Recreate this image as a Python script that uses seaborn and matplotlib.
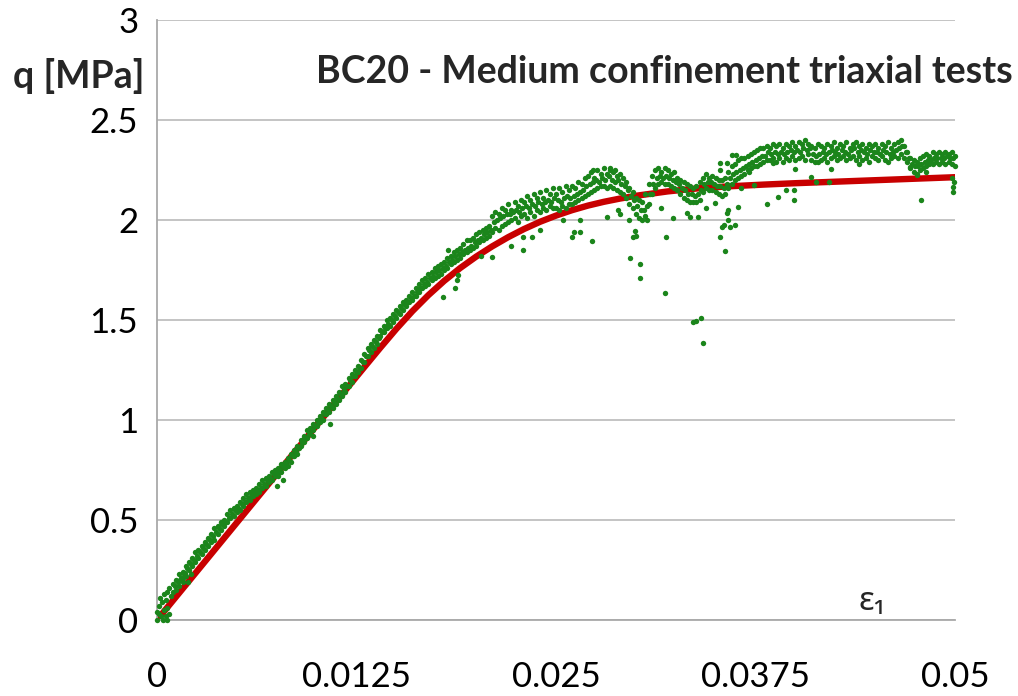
import matplotlib
matplotlib.use("Agg")
import matplotlib.pyplot as plt
import numpy as np
import pandas as pd
import seaborn as sns

# ---------------------------------------------------------------------------
# Data: axial strain in per mille, deviatoric stress q in MPa
# ---------------------------------------------------------------------------

# Fitted model response (red curve)
eps_fit = [0.0, 7.5, 13.1, 14.0, 15.0, 16.0, 17.0, 18.0, 19.0, 20.0, 21.0, 22.0,
           23.0, 24.0, 25.0, 26.0, 27.0, 28.0, 29.0, 30.0, 32.0, 34.0, 36.0, 38.0,
           40.0, 44.0, 50.0]
q_fit = [0.0, 0.73, 1.275, 1.362, 1.456, 1.544, 1.624, 1.696, 1.760, 1.817, 1.868, 1.914,
         1.955, 1.991, 2.022, 2.049, 2.072, 2.091, 2.107, 2.121, 2.143, 2.159, 2.169, 2.177,
         2.184, 2.196, 2.214]

# Measured points, loading branch (upper edge, lower edge and middle of the band)
eps_load = [1.0, 1.2, 1.4, 1.6, 1.8, 2.0, 2.2, 2.4, 2.6, 2.8,
            3.0, 3.2, 3.4, 3.6, 3.8, 4.0, 4.2, 4.4, 4.6, 4.8,
            5.0, 5.2, 5.4, 5.6, 5.8, 6.0, 6.2, 6.4, 6.6, 6.8,
            7.0, 7.2, 7.4, 7.6, 7.8, 8.0, 8.2, 8.4, 8.6, 8.8,
            9.0, 9.2, 9.4, 9.6, 9.8, 10.0, 10.2, 10.4, 10.6, 10.8,
            11.0, 11.2, 11.4, 11.6, 11.8, 12.0, 12.2, 12.4, 12.6, 12.8,
            13.0, 13.2, 13.4, 13.6, 13.8, 14.0, 14.2, 14.4, 14.6, 14.8,
            15.0, 15.2, 15.4, 15.6, 15.8, 16.0, 16.2, 16.4, 16.6, 16.8,
            17.0, 17.2, 17.4, 17.6, 17.8, 18.0, 18.2, 18.4, 18.6, 18.8,
            19.0, 19.2, 19.4, 19.6, 19.8, 20.0, 20.2, 20.4, 20.6, 20.8]
q_load_upper = [0.18, 0.20, 0.23, 0.24, 0.27, 0.29, 0.31, 0.34, 0.35, 0.37,
                0.39, 0.41, 0.43, 0.46, 0.47, 0.49, 0.50, 0.53, 0.55, 0.56,
                0.57, 0.59, 0.61, 0.63, 0.64, 0.65, 0.66, 0.68, 0.70, 0.71,
                0.72, 0.74, 0.75, 0.76, 0.78, 0.79, 0.81, 0.83, 0.85, 0.87,
                0.90, 0.92, 0.95, 0.96, 0.98, 1.00, 1.02, 1.04, 1.06, 1.08,
                1.10, 1.12, 1.14, 1.17, 1.18, 1.21, 1.23, 1.25, 1.27, 1.30,
                1.33, 1.36, 1.38, 1.40, 1.42, 1.45, 1.47, 1.50, 1.51, 1.53,
                1.55, 1.57, 1.59, 1.60, 1.62, 1.64, 1.66, 1.68, 1.70, 1.71,
                1.73, 1.74, 1.76, 1.77, 1.78, 1.79, 1.81, 1.82, 1.84, 1.85,
                1.86, 1.88, 1.90, 1.90, 1.91, 1.93, 1.94, 1.95, 1.96, 1.97]
q_load_lower = [0.14, 0.15, 0.17, 0.19, 0.22, 0.25, 0.27, 0.29, 0.31, 0.33,
                0.35, 0.37, 0.39, 0.40, 0.43, 0.45, 0.47, 0.49, 0.51, 0.52,
                0.54, 0.55, 0.57, 0.59, 0.60, 0.62, 0.63, 0.64, 0.66, 0.67,
                0.69, 0.70, 0.72, 0.72, 0.74, 0.76, 0.77, 0.79, 0.82, 0.83,
                0.87, 0.89, 0.91, 0.93, 0.95, 0.97, 0.99, 1.00, 1.03, 1.04,
                1.06, 1.08, 1.10, 1.12, 1.14, 1.17, 1.19, 1.22, 1.24, 1.26,
                1.29, 1.32, 1.34, 1.36, 1.38, 1.42, 1.44, 1.46, 1.47, 1.49,
                1.51, 1.53, 1.55, 1.57, 1.59, 1.60, 1.62, 1.64, 1.66, 1.67,
                1.68, 1.70, 1.71, 1.72, 1.73, 1.75, 1.76, 1.78, 1.79, 1.80,
                1.81, 1.83, 1.84, 1.85, 1.86, 1.87, 1.89, 1.90, 1.91, 1.92]
eps_load_mid = [1.1, 1.3, 1.5, 1.7, 1.9, 2.1, 2.3, 2.5, 2.7, 2.9,
                3.1, 3.3, 3.5, 3.7, 3.9, 4.1, 4.3, 4.5, 4.7, 4.9,
                5.1, 5.3, 5.5, 5.7, 5.9, 6.1, 6.3, 6.5, 6.7, 6.9,
                7.1, 7.3, 7.5, 7.7, 7.9, 8.1, 8.3, 8.5, 8.7, 8.9,
                9.1, 9.3, 9.5, 9.7, 9.9, 10.1, 10.3, 10.5, 10.7, 10.9,
                11.1, 11.3, 11.5, 11.7, 11.9, 12.1, 12.3, 12.5, 12.7, 12.9,
                13.1, 13.3, 13.5, 13.7, 13.9, 14.1, 14.3, 14.5, 14.7, 14.9,
                15.1, 15.3, 15.5, 15.7, 15.9, 16.1, 16.3, 16.5, 16.7, 16.9,
                17.1, 17.3, 17.5, 17.7, 17.9, 18.1, 18.3, 18.5, 18.7, 18.9,
                19.1, 19.3, 19.5, 19.7, 19.9, 20.1, 20.3, 20.5, 20.7, 20.9]
q_load_mid = [0.17, 0.19, 0.21, 0.23, 0.26, 0.28, 0.30, 0.32, 0.34, 0.36,
              0.38, 0.40, 0.42, 0.44, 0.46, 0.48, 0.49, 0.51, 0.53, 0.55,
              0.56, 0.58, 0.59, 0.61, 0.62, 0.64, 0.65, 0.66, 0.68, 0.70,
              0.71, 0.73, 0.74, 0.75, 0.77, 0.78, 0.80, 0.82, 0.84, 0.86,
              0.89, 0.91, 0.93, 0.95, 0.97, 0.99, 1.01, 1.03, 1.05, 1.07,
              1.09, 1.11, 1.13, 1.15, 1.17, 1.20, 1.22, 1.24, 1.26, 1.29,
              1.32, 1.35, 1.37, 1.39, 1.41, 1.44, 1.46, 1.48, 1.50, 1.52,
              1.54, 1.56, 1.58, 1.59, 1.61, 1.62, 1.64, 1.66, 1.68, 1.69,
              1.71, 1.72, 1.74, 1.75, 1.76, 1.77, 1.79, 1.80, 1.82, 1.83,
              1.84, 1.85, 1.86, 1.87, 1.89, 1.90, 1.91, 1.93, 1.94, 1.95]

# Measured points, hardening plateau (upper edge, lower edge and middle of the band)
eps_plat = [21.0, 21.2, 21.4, 21.6, 21.8, 22.0, 22.2, 22.4, 22.6, 22.8,
            23.0, 23.2, 23.4, 23.6, 23.8, 24.0, 24.2, 24.4, 24.6, 24.8,
            25.0, 25.2, 25.4, 25.6, 25.8, 26.0, 26.2, 26.4, 26.6, 26.8,
            27.0, 27.2, 27.4, 27.6, 27.8, 28.0, 28.2, 28.4, 28.6, 28.8,
            29.0, 29.2, 29.4, 29.6, 29.8, 30.0, 30.2, 30.4, 30.6, 30.8,
            31.0, 31.2, 31.4, 31.6, 31.8, 32.0, 32.2, 32.4, 32.6, 32.8,
            33.0, 33.2, 33.4, 33.6, 33.8, 34.0, 34.2, 34.4, 34.6, 34.8,
            35.0, 35.2, 35.4, 35.6, 35.8, 36.0, 36.2, 36.4, 36.6, 36.8,
            37.0, 37.2, 37.4, 37.6, 37.8, 38.0, 38.2, 38.4, 38.6, 38.8,
            39.0, 39.2, 39.4, 39.6, 39.8, 40.0, 40.2, 40.4, 40.6, 40.8,
            41.0, 41.2, 41.4, 41.6, 41.8, 42.0, 42.2, 42.4, 42.6, 42.8,
            43.0, 43.2, 43.4, 43.6, 43.8, 44.0, 44.2, 44.4, 44.6, 44.8,
            45.0, 45.2, 45.4, 45.6, 45.8, 46.0, 46.2, 46.4, 46.6, 46.8,
            47.0, 47.2, 47.4, 47.6, 47.8, 48.0, 48.2, 48.4, 48.6, 48.8,
            49.0, 49.2, 49.4, 49.6, 49.8, 50.0]
q_plat_upper = [2.02, 2.04, 2.03, 2.06, 2.05, 2.08, 2.05, 2.09, 2.07, 2.10,
                2.09, 2.12, 2.10, 2.13, 2.11, 2.14, 2.11, 2.15, 2.13, 2.16,
                2.13, 2.16, 2.14, 2.17, 2.15, 2.17, 2.16, 2.19, 2.18, 2.21,
                2.22, 2.24, 2.21, 2.25, 2.23, 2.26, 2.23, 2.25, 2.24, 2.22,
                2.23, 2.21, 2.19, 2.16, 2.14, 2.11, 2.10, 2.09, 2.13, 2.18,
                2.22, 2.25, 2.26, 2.24, 2.26, 2.25, 2.23, 2.24, 2.21, 2.20,
                2.19, 2.18, 2.17, 2.16, 2.17, 2.19, 2.21, 2.23, 2.21, 2.22,
                2.21, 2.20, 2.20, 2.21, 2.24, 2.27, 2.28, 2.30, 2.31, 2.31,
                2.32, 2.33, 2.34, 2.35, 2.36, 2.36, 2.37, 2.36, 2.38, 2.37,
                2.38, 2.36, 2.38, 2.37, 2.39, 2.37, 2.39, 2.38, 2.40, 2.38,
                2.37, 2.36, 2.38, 2.37, 2.36, 2.38, 2.37, 2.39, 2.36, 2.38,
                2.37, 2.39, 2.36, 2.38, 2.39, 2.37, 2.38, 2.36, 2.38, 2.37,
                2.38, 2.36, 2.38, 2.37, 2.39, 2.36, 2.38, 2.39, 2.40, 2.37,
                2.34, 2.31, 2.30, 2.29, 2.31, 2.32, 2.33, 2.32, 2.34, 2.33,
                2.34, 2.33, 2.34, 2.33, 2.34, 2.32]
q_plat_lower = [1.94, 1.96, 1.95, 1.97, 1.98, 1.99, 2.00, 2.01, 1.99, 2.02,
                2.03, 2.01, 2.04, 2.02, 2.05, 2.04, 2.06, 2.05, 2.07, 2.06,
                2.06, 2.05, 2.07, 2.06, 2.08, 2.08, 2.09, 2.10, 2.11, 2.12,
                2.13, 2.14, 2.15, 2.16, 2.17, 2.17, 2.16, 2.17, 2.16, 2.15,
                2.14, 2.13, 2.11, 2.08, 2.06, 2.03, 2.01, 2.00, 2.02, 2.08,
                2.13, 2.16, 2.18, 2.19, 2.18, 2.18, 2.17, 2.16, 2.15, 2.13,
                2.11, 2.10, 2.09, 2.09, 2.09, 2.10, 2.14, 2.16, 2.15, 2.15,
                2.14, 2.13, 2.12, 2.13, 2.16, 2.18, 2.20, 2.21, 2.22, 2.23,
                2.25, 2.26, 2.27, 2.27, 2.28, 2.29, 2.30, 2.30, 2.31, 2.29,
                2.31, 2.29, 2.31, 2.30, 2.32, 2.30, 2.31, 2.32, 2.30, 2.33,
                2.30, 2.29, 2.29, 2.30, 2.31, 2.29, 2.31, 2.32, 2.30, 2.31,
                2.32, 2.30, 2.31, 2.32, 2.30, 2.32, 2.30, 2.31, 2.29, 2.32,
                2.31, 2.30, 2.32, 2.30, 2.29, 2.31, 2.32, 2.31, 2.33, 2.31,
                2.29, 2.26, 2.24, 2.23, 2.25, 2.26, 2.27, 2.28, 2.28, 2.29,
                2.28, 2.29, 2.28, 2.29, 2.28, 2.27]
eps_plat_mid = [21.1, 21.3, 21.5, 21.7, 21.9, 22.1, 22.3, 22.5, 22.7, 22.9,
                23.1, 23.3, 23.5, 23.7, 23.9, 24.1, 24.3, 24.5, 24.7, 24.9,
                25.1, 25.3, 25.5, 25.7, 25.9, 26.1, 26.3, 26.5, 26.7, 26.9,
                27.1, 27.3, 27.5, 27.7, 27.9, 28.1, 28.3, 28.5, 28.7, 28.9,
                29.1, 29.3, 29.5, 29.7, 29.9, 30.1, 30.3, 30.5, 30.7, 30.9,
                31.1, 31.3, 31.5, 31.7, 31.9, 32.1, 32.3, 32.5, 32.7, 32.9,
                33.1, 33.3, 33.5, 33.7, 33.9, 34.1, 34.3, 34.5, 34.7, 34.9,
                35.1, 35.3, 35.5, 35.7, 35.9, 36.1, 36.3, 36.5, 36.7, 36.9,
                37.1, 37.3, 37.5, 37.7, 37.9, 38.1, 38.3, 38.5, 38.7, 38.9,
                39.1, 39.3, 39.5, 39.7, 39.9, 40.1, 40.3, 40.5, 40.7, 40.9,
                41.1, 41.3, 41.5, 41.7, 41.9, 42.1, 42.3, 42.5, 42.7, 42.9,
                43.1, 43.3, 43.5, 43.7, 43.9, 44.1, 44.3, 44.5, 44.7, 44.9,
                45.1, 45.3, 45.5, 45.7, 45.9, 46.1, 46.3, 46.5, 46.7, 46.9,
                47.1, 47.3, 47.5, 47.7, 47.9, 48.1, 48.3, 48.5, 48.7, 48.9,
                49.1, 49.3, 49.5, 49.7, 49.9]
q_plat_mid = [1.99, 2.00, 2.01, 2.02, 2.03, 2.03, 2.04, 2.05, 2.04, 2.06,
              2.07, 2.06, 2.08, 2.07, 2.09, 2.08, 2.09, 2.10, 2.09, 2.11,
              2.10, 2.09, 2.11, 2.12, 2.11, 2.12, 2.13, 2.14, 2.15, 2.17,
              2.18, 2.19, 2.20, 2.19, 2.21, 2.20, 2.22, 2.20, 2.19, 2.20,
              2.18, 2.17, 2.15, 2.12, 2.10, 2.07, 2.05, 2.05, 2.07, 2.13,
              2.18, 2.21, 2.22, 2.21, 2.22, 2.21, 2.20, 2.19, 2.18, 2.16,
              2.15, 2.13, 2.13, 2.12, 2.13, 2.15, 2.18, 2.19, 2.19, 2.18,
              2.17, 2.17, 2.16, 2.18, 2.21, 2.23, 2.24, 2.25, 2.26, 2.27,
              2.28, 2.29, 2.30, 2.31, 2.32, 2.32, 2.34, 2.33, 2.34, 2.33,
              2.34, 2.33, 2.34, 2.35, 2.34, 2.35, 2.34, 2.36, 2.35, 2.36,
              2.33, 2.32, 2.33, 2.34, 2.33, 2.34, 2.35, 2.34, 2.33, 2.35,
              2.34, 2.33, 2.35, 2.36, 2.34, 2.35, 2.34, 2.33, 2.35, 2.34,
              2.34, 2.33, 2.35, 2.34, 2.33, 2.34, 2.35, 2.36, 2.37, 2.34,
              2.31, 2.28, 2.27, 2.27, 2.28, 2.29, 2.30, 2.30, 2.31, 2.31,
              2.31, 2.31, 2.32, 2.31, 2.31]

# Measured points off the main band (start of test and load drops)
eps_scatter = [0.0, 0.0, 0.1, 0.15, 0.2, 0.25, 0.3, 0.35, 0.45, 0.45,
               0.55, 0.55, 0.6, 0.65, 0.65, 0.75, 0.75, 0.85,
               1.45, 1.65, 1.75, 1.95, 2.1,
               7.5, 7.9, 9.8, 10.85,
               17.94, 18.67, 18.78, 18.88, 18.25, 20.3, 21.0, 22.2, 22.95, 22.95,
               23.5, 24.0, 25.46, 25.98, 26.1, 26.5, 26.5, 27.24, 28.2, 28.9,
               29.0, 29.6, 29.85, 29.95, 29.64, 30.26, 30.26, 30.0, 30.7, 27.3,
               28.4, 28.7, 31.6, 31.9, 31.8, 32.3, 33.2, 33.4, 33.9, 33.6,
               33.8, 34.1, 34.2, 34.4, 34.97, 35.3, 35.4, 35.5, 35.6, 35.7,
               35.8, 35.9, 36.2, 35.8, 36.4, 35.3, 35.3, 35.7, 36.0, 36.3,
               36.6, 37.1, 37.4, 38.2, 38.9, 38.6, 39.4, 39.9, 39.9, 40.0,
               41.0, 41.3, 42.1, 42.2, 44.0, 47.2, 47.6, 47.9, 48.2, 49.8,
               49.85, 49.9, 49.95]
q_scatter = [0.0, 0.04, 0.07, 0.03, 0.11, 0.02, 0.09, 0.0, 0.05, 0.13,
             0.02, 0.10, 0.0, 0.06, 0.14, 0.03, 0.16, 0.12,
             0.20, 0.21, 0.235, 0.19, 0.23,
             0.67, 0.70, 0.92, 0.98,
             1.615, 1.66, 1.70, 1.725, 1.85, 1.82, 1.815, 1.87, 1.85, 1.913,
             1.913, 1.95, 2.0, 1.913, 1.94, 1.94, 2.0, 1.897, 2.017, 2.05,
             2.03, 2.0, 1.913, 1.947, 1.808, 1.78, 1.71, 1.92, 2.0, 2.25,
             2.26, 2.25, 2.058, 1.913, 1.633, 2.008, 2.033, 2.017, 2.013, 1.492,
             1.497, 1.508, 1.383, 2.058, 2.087, 1.917, 1.967, 1.975, 1.847, 2.033,
             2.0, 1.967, 1.975, 2.05, 2.067, 2.283, 2.25, 2.283, 2.325, 2.325,
             2.158, 2.24, 2.175, 2.08, 2.117, 2.283, 2.15, 2.15, 2.10, 2.253,
             2.217, 2.19, 2.19, 2.253, 2.28, 2.267, 2.225, 2.10, 2.24, 2.208,
             2.167, 2.14, 2.19]

x_ticks = [0, 0.0125, 0.025, 0.0375, 0.05]
x_tick_labels = ["0", "0.0125", "0.025", "0.0375", "0.05"]
y_ticks = [0, 0.5, 1, 1.5, 2, 2.5, 3]
y_tick_labels = ["0", "0.5", "1", "1.5", "2", "2.5", "3"]

title_text = "BC20 - Medium confinement triaxial tests"
y_label_text = "q [MPa]"
x_label_text = "\u03b5\u2081"

# ---------------------------------------------------------------------------
# Tables for seaborn (strain converted from per mille to absolute)
# ---------------------------------------------------------------------------
fit_df = pd.DataFrame({"eps": np.array(eps_fit) / 1000.0, "q": q_fit})
measured_df = pd.concat([
    pd.DataFrame({"eps": eps_load, "q": q_load_upper}),
    pd.DataFrame({"eps": eps_load, "q": q_load_lower}),
    pd.DataFrame({"eps": eps_load_mid, "q": q_load_mid}),
    pd.DataFrame({"eps": eps_plat, "q": q_plat_upper}),
    pd.DataFrame({"eps": eps_plat, "q": q_plat_lower}),
    pd.DataFrame({"eps": eps_plat_mid, "q": q_plat_mid}),
    pd.DataFrame({"eps": eps_scatter, "q": q_scatter}),
], ignore_index=True)
measured_df["eps"] = measured_df["eps"] / 1000.0

# ---------------------------------------------------------------------------
# Figure
# ---------------------------------------------------------------------------
sns.set_style("white")
plt.rcParams["font.family"] = ["Lato", "DejaVu Sans"]

W, H = 1018, 696
fig = plt.figure(figsize=(W / 100, H / 100), dpi=100)
ax = fig.add_axes([157 / W, 76 / H, 798 / W, 600 / H])

axis_grey = "#a9a9a9"
grid_grey = "#bfbfbf"

sns.lineplot(data=fit_df, x="eps", y="q", ax=ax, color="#c80000",
             linewidth=4.6, sort=False, estimator=None, zorder=2)
sns.scatterplot(data=measured_df, x="eps", y="q", ax=ax, color="#1b851b",
                s=15, linewidth=0, zorder=3, clip_on=False)

ax.set_xlim(0, 0.05)
ax.set_ylim(0, 3)
ax.set_xticks(x_ticks, x_tick_labels)
ax.set_yticks(y_ticks, y_tick_labels)
ax.set_xlabel("")
ax.set_ylabel("")

ax.yaxis.grid(True, color=grid_grey, linewidth=1.3, zorder=0)
ax.xaxis.grid(False)
ax.set_axisbelow(True)
for side in ("top", "right"):
    ax.spines[side].set_visible(False)
for side in ("left", "bottom"):
    ax.spines[side].set_color(axis_grey)
    ax.spines[side].set_linewidth(1.3)

ax.tick_params(axis="both", direction="out", length=7.5, width=1.3,
               color=axis_grey, labelsize=25, labelcolor="black")
ax.tick_params(axis="x", pad=22)
ax.tick_params(axis="y", pad=6)

fig.text(1013 / W, 1 - 72 / H, title_text, fontsize=27, fontweight="bold",
         ha="right", va="center")
fig.text(13 / W, 1 - 76 / H, y_label_text, fontsize=27, fontweight="bold",
         ha="left", va="center")
fig.text(872 / W, 1 - 601 / H, x_label_text, fontsize=24,
         family=["Noto Sans", "DejaVu Sans"], ha="center", va="center")

fig.savefig("out.png", dpi=100)
